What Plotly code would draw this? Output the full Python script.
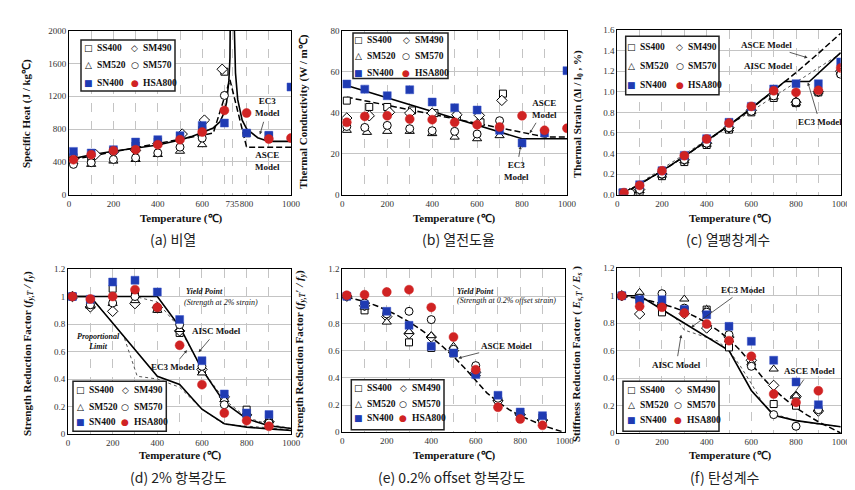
import plotly.graph_objects as go

FIG_W, FIG_H = 855, 490
SERIF = "Liberation Serif, Times New Roman, serif"
KR = "Noto Sans CJK KR, Noto Sans, sans-serif"
BLUE = "#1f3bb3"
RED = "#d02323"
GRID = "#c4c4c4"

SERIES = ["SS400", "SM490", "SM520", "SM570", "SN400", "HSA800"]
TEMP11 = [20, 100, 200, 300, 400, 500, 600, 700, 800, 900, 1000]
TEMP10 = [20, 100, 200, 300, 400, 500, 600, 700, 800, 900]

# ---------------- (a) specific heat ----------------
a_ss400_t = [20, 100, 200, 300, 400, 500, 600, 700, 800, 900]
a_ss400 = [460, 430, 540, 600, 650, 700, 790, 1500, 750, 720]
a_sm490_t = [20, 120, 200, 300, 400, 510, 610, 690]
a_sm490 = [440, 490, 520, 540, 620, 740, 910, 1530]
a_sm520_t = [20, 100, 200, 300, 400, 500, 600]
a_sm520 = [400, 370, 410, 430, 490, 530, 610]
a_sm570_t = [20, 100, 200, 300, 400, 500, 600, 700]
a_sm570 = [370, 390, 430, 450, 510, 580, 690, 1210]
a_sn400_t = TEMP11
a_sn400 = [528, 508, 549, 642, 671, 720, 845, 874, 752, 724, 1313]
a_hsa800_t = TEMP11
a_hsa800 = [427, 488, 537, 549, 610, 671, 764, 1028, 996, 679, 691]
a_ec3_t = [20, 100, 200, 300, 400, 500, 550, 600, 650, 680, 700, 710, 720, 725, 730, 733, 735,
           736, 738, 740, 745, 750, 760, 780, 800, 850, 900, 1000]
a_ec3 = [440, 488, 530, 565, 606, 667, 708, 760, 814, 890, 1008, 1130, 1388, 1666, 2291, 3266, 5000,
         4109, 3091, 2525, 1818, 1483, 1159, 909, 803, 695, 650, 650]
a_asce_t = [20, 200, 400, 600, 650, 700, 725, 760, 800, 1000]
a_asce = [430, 522, 624, 726, 752, 1185, 1401, 1018, 580, 580]

# ---------------- (b) thermal conductivity ----------------
b_ss400_t = [20, 120, 200, 310, 410, 510, 615, 715]
b_ss400 = [45.9, 42.8, 42.8, 41.1, 39.8, 38.2, 35.3, 49.3]
b_sm490_t = [20, 120, 210, 300, 400, 510, 610, 710]
b_sm490 = [37.4, 38.5, 40.2, 39.8, 39.8, 39.0, 38.7, 46.0]
b_sm520_t = [20, 110, 200, 300, 400, 500, 600, 700]
b_sm520 = [31.4, 30.4, 30.9, 30.9, 29.8, 28.1, 27.3, 28.8]
b_sm570_t = [20, 100, 200, 300, 400, 500, 600, 700]
b_sm570 = [33.3, 32.8, 33.8, 32.2, 31.2, 30.9, 29.6, 36.1]
b_sn400_t = TEMP11
b_sn400 = [54.0, 51.5, 48.3, 51.2, 45.2, 42.4, 41.3, 31.4, 25.2, 30.1, 60.5]
b_hsa800_t = TEMP11
b_hsa800 = [35.3, 38.2, 38.5, 36.9, 36.6, 35.3, 34.1, 33.0, 38.5, 31.4, 32.4]
b_ec3_t = [20, 800, 1000]
b_ec3 = [53.3, 27.3, 27.3]
b_asce_t = [20, 900, 1000]
b_asce = [47.6, 28.2, 28.2]

# ---------------- (c) thermal strain ----------------
c_ss400_t = [25, 100, 200, 300, 400, 500, 600, 700, 800, 900, 1000]
c_ss400 = [0.02, 0.03, 0.18, 0.317, 0.483, 0.632, 0.80, 0.94, 0.89, 0.994, 1.18]
c_sm490_t = [55, 100, 200, 300, 400, 500, 600, 700, 800, 900, 1000]
c_sm490 = [0.01, 0.05, 0.20, 0.34, 0.50, 0.65, 0.82, 0.97, 0.90, 1.00, 1.20]
c_sm520_t = [60, 100, 200, 300, 400, 500, 600, 700, 800, 900, 1000]
c_sm520 = [0.01, 0.04, 0.19, 0.33, 0.49, 0.64, 0.81, 0.95, 0.89, 1.00, 1.19]
c_sm570_t = [60, 100, 200, 300, 400, 500, 600, 700, 800, 900, 1000]
c_sm570 = [0.015, 0.05, 0.20, 0.34, 0.50, 0.65, 0.81, 0.96, 0.90, 1.00, 1.17]
c_sn400_t = [25, 100, 200, 300, 400, 500, 600, 700, 800, 900, 1000]
c_sn400 = [0.02, 0.097, 0.233, 0.382, 0.544, 0.703, 0.858, 1.027, 1.078, 1.078, 1.289]
c_hsa800_t = [30, 100, 200, 300, 400, 500, 600, 700, 800, 900, 1000]
c_hsa800 = [0.02, 0.09, 0.233, 0.379, 0.541, 0.696, 0.858, 1.01, 0.994, 1.014, 1.231]
c_ec3_t = [20, 100, 200, 300, 400, 500, 600, 700, 750, 860, 1000]
c_ec3 = [0.0, 0.10, 0.232, 0.372, 0.52, 0.676, 0.84, 1.012, 1.10, 1.10, 1.38]
c_asce_t = TEMP11
c_asce = [0.0, 0.099, 0.230, 0.370, 0.517, 0.672, 0.835, 1.006, 1.186, 1.373, 1.568]
c_aisc_t = [20, 1000]
c_aisc = [0.0, 1.372]

# ---------------- (d) 2% yield strength ----------------
d_ss400 = [1.0, 0.95, 1.057, 1.03, 0.909, 0.735, 0.468, 0.26, 0.177, 0.116]
d_sm490 = [1.0, 0.924, 0.892, 0.948, 0.92, 0.75, 0.47, 0.27, 0.14, 0.09]
d_sm520 = [1.0, 0.93, 0.95, 0.97, 0.90, 0.76, 0.444, 0.25, 0.15, 0.10]
d_sm570 = [1.0, 0.94, 0.953, 1.0, 0.92, 0.795, 0.492, 0.213, 0.13, 0.08]
d_sn400 = [1.0, 0.98, 1.105, 1.118, 1.033, 0.832, 0.533, 0.291, 0.153, 0.141]
d_hsa800 = [1.0, 0.982, 1.0, 1.05, 0.921, 0.645, 0.359, 0.153, 0.097, 0.056]
d_ec3y_t = [20, 400, 500, 600, 700, 800, 900, 1000]
d_ec3y = [1.0, 1.0, 0.78, 0.47, 0.23, 0.11, 0.06, 0.04]
d_aiscy_t = [20, 300, 400, 500, 600, 700, 800, 900, 1000]
d_aiscy = [1.0, 1.0, 0.96, 0.77, 0.47, 0.25, 0.12, 0.07, 0.04]
d_ec3p_t = TEMP11
d_ec3p = [1.0, 1.0, 0.807, 0.613, 0.42, 0.36, 0.18, 0.075, 0.05, 0.0375, 0.025]
d_aiscp_t = [20, 100, 200, 250, 310, 400, 500, 600, 700, 800, 900, 1000]
d_aiscp = [1.0, 1.0, 0.81, 0.71, 0.42, 0.40, 0.34, 0.18, 0.07, 0.06, 0.045, 0.03]

# ---------------- (e) 0.2% offset yield strength ----------------
e_ss400 = [1.0, 0.896, 0.865, 0.661, 0.62, 0.58, 0.43, 0.24, 0.14, 0.11]
e_sm490 = [1.0, 0.93, 0.85, 0.725, 0.70, 0.60, 0.44, 0.23, 0.13, 0.09]
e_sm520 = [1.0, 0.92, 0.81, 0.74, 0.71, 0.632, 0.43, 0.25, 0.14, 0.10]
e_sm570 = [1.0, 0.95, 0.87, 0.889, 0.828, 0.61, 0.49, 0.25, 0.13, 0.08]
e_sn400 = [1.0, 0.938, 0.889, 0.786, 0.632, 0.583, 0.424, 0.272, 0.149, 0.122]
e_hsa800 = [1.007, 1.011, 1.031, 1.048, 0.918, 0.70, 0.46, 0.184, 0.098, 0.051]
e_asce_t = [20, 50, 100, 150, 200, 250, 300, 350, 400, 450, 500, 550, 600, 650, 700, 750, 800, 850, 900, 950, 1000]
e_asce = [0.995, 0.984, 0.961, 0.932, 0.898, 0.857, 0.811, 0.758, 0.699, 0.632, 0.557, 0.472, 0.377,
          0.290, 0.222, 0.167, 0.121, 0.084, 0.052, 0.024, 0.0]

# ---------------- (f) elastic modulus ----------------
f_ss400 = [1.0, 0.97, 0.879, 0.90, 0.899, 0.624, 0.522, 0.211, 0.199, 0.17]
f_sm490 = [1.0, 0.867, 0.93, 0.87, 0.765, 0.70, 0.53, 0.347, 0.267, 0.16]
f_sm520 = [1.0, 1.025, 0.94, 0.976, 0.90, 0.68, 0.51, 0.466, 0.27, 0.18]
f_sm570 = [1.0, 0.98, 1.015, 0.91, 0.88, 0.717, 0.486, 0.134, 0.049, 0.17]
f_sn400 = [1.0, 0.971, 0.971, 0.899, 0.862, 0.777, 0.668, 0.53, 0.372, 0.206]
f_hsa800 = [1.0, 0.923, 0.916, 0.874, 0.794, 0.673, 0.559, 0.284, 0.223, 0.308]
f_ec3_t = TEMP11
f_ec3 = [1.0, 1.0, 0.9, 0.8, 0.7, 0.6, 0.31, 0.13, 0.09, 0.0675, 0.045]
f_asce_t = [20, 50, 100, 150, 200, 250, 300, 350, 400, 450, 500, 550, 600, 650, 700, 750, 800, 850, 900, 950, 1000]
f_asce = [0.998, 0.992, 0.979, 0.962, 0.941, 0.916, 0.885, 0.847, 0.802, 0.748, 0.683, 0.603, 0.505,
          0.405, 0.320, 0.248, 0.185, 0.130, 0.082, 0.039, 0.0]
f_aisc_t = [20, 100, 200, 260, 300, 400, 450, 500, 550, 600, 650, 700, 800, 900, 1000]
f_aisc = [1.0, 1.0, 0.90, 0.84, 0.75, 0.70, 0.67, 0.60, 0.49, 0.36, 0.22, 0.14, 0.09, 0.065, 0.045]

# ---------------- styles ----------------
MARKER = {
    "SS400": dict(symbol="square", size=7, color="white", line=dict(color="black", width=1)),
    "SM490": dict(symbol="diamond", size=8, color="white", line=dict(color="black", width=1)),
    "SM520": dict(symbol="triangle-up", size=8, color="white", line=dict(color="black", width=1)),
    "SM570": dict(symbol="circle", size=8, color="white", line=dict(color="black", width=1)),
    "SN400": dict(symbol="square", size=8, color=BLUE, line=dict(color="#3a55c8", width=0.5)),
    "HSA800": dict(symbol="circle", size=9, color=RED, line=dict(color=RED, width=0.5)),
}
GLYPH = {"SS400": ("□", "black"), "SM490": ("◇", "black"), "SM520": ("△", "black"),
         "SM570": ("○", "black"), "SN400": ("■", BLUE), "HSA800": ("●", RED)}

# panel plot areas in pixels (left, right, top, bottom)
PANELS = [
    (61, 283, 22.7, 186.7),
    (334.3, 559, 22.7, 186.7),
    (609.3, 832.7, 22, 186.7),
    (60, 283.3, 261, 426),
    (334.3, 556.7, 261, 424.3),
    (609.3, 832.7, 260.3, 425),
]

fig = go.Figure()


def ax_names(i):
    return ("x" if i == 0 else f"x{i+1}"), ("y" if i == 0 else f"y{i+1}")


def add_points(i, tlist, vlist):
    xr, yr = ax_names(i)
    for name, t, v in zip(SERIES, tlist, vlist):
        fig.add_trace(go.Scatter(x=t, y=v, mode="markers", name=name, showlegend=False,
                                 marker=MARKER[name], xaxis=xr, yaxis=yr, cliponaxis=True))


def add_line(i, t, v, kind):
    xr, yr = ax_names(i)
    if kind == "solid":
        line = dict(color="black", width=1.6)
    elif kind == "dash":
        line = dict(color="black", width=1.5, dash="6px,3px")
    else:
        line = dict(color="#555555", width=1, dash="dot")
    fig.add_trace(go.Scatter(x=t, y=v, mode="lines", line=line, showlegend=False,
                             xaxis=xr, yaxis=yr, hoverinfo="skip"))


# model lines first (beneath markers)
add_line(0, a_asce_t, a_asce, "dash")
add_line(0, a_ec3_t, a_ec3, "solid")
add_line(1, b_asce_t, b_asce, "dash")
add_line(1, b_ec3_t, b_ec3, "solid")
add_line(2, c_aisc_t, c_aisc, "dot")
add_line(2, c_asce_t, c_asce, "dash")
add_line(2, c_ec3_t, c_ec3, "solid")
add_line(3, d_aiscy_t, d_aiscy, "dot")
add_line(3, d_aiscp_t, d_aiscp, "dot")
add_line(3, d_ec3y_t, d_ec3y, "solid")
add_line(3, d_ec3p_t, d_ec3p, "solid")
add_line(4, e_asce_t, e_asce, "dash")
add_line(5, f_aisc_t, f_aisc, "dot")
add_line(5, f_ec3_t, f_ec3, "solid")
add_line(5, f_asce_t, f_asce, "dash")

add_points(0, [a_ss400_t, a_sm490_t, a_sm520_t, a_sm570_t, a_sn400_t, a_hsa800_t],
           [a_ss400, a_sm490, a_sm520, a_sm570, a_sn400, a_hsa800])
add_points(1, [b_ss400_t, b_sm490_t, b_sm520_t, b_sm570_t, b_sn400_t, b_hsa800_t],
           [b_ss400, b_sm490, b_sm520, b_sm570, b_sn400, b_hsa800])
add_points(2, [c_ss400_t, c_sm490_t, c_sm520_t, c_sm570_t, c_sn400_t, c_hsa800_t],
           [c_ss400, c_sm490, c_sm520, c_sm570, c_sn400, c_hsa800])
add_points(3, [TEMP10] * 6, [d_ss400, d_sm490, d_sm520, d_sm570, d_sn400, d_hsa800])
add_points(4, [TEMP10] * 6, [e_ss400, e_sm490, e_sm520, e_sm570, e_sn400, e_hsa800])
add_points(5, [TEMP10] * 6, [f_ss400, f_sm490, f_sm520, f_sm570, f_sn400, f_hsa800])

# ---------------- axes ----------------
YRANGES = [(0, 2000, 400, None), (0, 80, 20, None), (0, 1.6, 0.2, ".1f"),
           (0, 1.2, 0.2, None), (0, 1.2, 0.2, None), (0, 1.2, 0.2, None)]
tickfont = dict(family=SERIF, size=9, color="#333333")
layout_axes = {}
for i, (l, r, t, b) in enumerate(PANELS):
    xk = "xaxis" if i == 0 else f"xaxis{i+1}"
    yk = "yaxis" if i == 0 else f"yaxis{i+1}"
    xr, yr = ax_names(i)
    xa = dict(domain=[l / FIG_W, r / FIG_W], anchor=yr, range=[0, 1000], showgrid=True,
              gridcolor=GRID, griddash="dash", gridwidth=1, zeroline=False, showline=True,
              linecolor="black", linewidth=1, mirror=True, ticks="", tickfont=tickfont,
              tickangle=0, automargin=False,
              minor=dict(dtick=100, tick0=0, showgrid=True, gridcolor=GRID, griddash="dash", gridwidth=1))
    if i == 0:
        xa.update(tickmode="array", tickvals=[0, 200, 400, 600, 735, 800, 1000],
                  ticktext=["0", "200", "400", "600", "735", "800", "1000"])
    else:
        xa.update(dtick=200, tick0=0)
    y0, y1, dt, fmt = YRANGES[i]
    ya = dict(domain=[1 - b / FIG_H, 1 - t / FIG_H], anchor=xr, range=[y0, y1], dtick=dt, tick0=0,
              showgrid=True, gridcolor=GRID, gridwidth=1, zeroline=False, showline=True,
              linecolor="black", linewidth=1, mirror=True, ticks="", tickfont=tickfont,
              automargin=False)
    if fmt:
        ya["tickformat"] = fmt
    layout_axes[xk] = xa
    layout_axes[yk] = ya

annotations = []
shapes = []


def paper(x, y):
    return x / FIG_W, 1 - y / FIG_H


# axis titles
YTITLES = [
    ("Specific Heat (J / kg℃)", 18, 106),
    ("Thermal Conductivity (W / m℃)", 295, 104),
    ("Thermal Strain (Δl / l<sub>0</sub> , %)", 570, 106),
    ("Strength Reduction Factor (<i>f<sub>y,T</sub> / f<sub>y</sub></i>)", 20, 346),
    ("Strength Reduction Factor (<i>f<sub>y,T</sub>′ / f<sub>y</sub></i>)", 292, 346),
    ("Stiffness Reduction Factor ( <i>E<sub>s,T</sub> / E<sub>s</sub></i> )", 569, 346),
]
for txt, xpx, ypx in YTITLES:
    px, py = paper(xpx, ypx)
    annotations.append(dict(text=f"<b>{txt}</b>", x=px, y=py, xref="paper", yref="paper",
                            textangle=-90, showarrow=False, xanchor="center", yanchor="middle",
                            font=dict(family=SERIF, size=11, color="#111111")))
for xpx, ypx in [(173, 210), (447, 210), (722, 210), (172, 447), (447, 447), (722, 447)]:
    px, py = paper(xpx, ypx)
    annotations.append(dict(text="<b>Temperature (℃)</b>", x=px, y=py, xref="paper", yref="paper",
                            showarrow=False, xanchor="center", yanchor="middle",
                            font=dict(family=SERIF, size=11, color="#111111")))

CAPTIONS = [("(a) 비열", 165, 231), ("(b) 열전도율", 450, 231), ("(c) 열팽창계수", 720, 231),
            ("(d) 2% 항복강도", 170, 469), ("(e) 0.2% offset 항복강도", 444, 469),
            ("(f) 탄성계수", 717, 469)]
for txt, xpx, ypx in CAPTIONS:
    px, py = paper(xpx, ypx)
    annotations.append(dict(text=txt, x=px, y=py, xref="paper", yref="paper", showarrow=False,
                            xanchor="center", yanchor="middle",
                            font=dict(family=KR, size=14, color="#222222")))

# legends (box, row y, marker x per column, text x per column)
LEGENDS = [
    ((73, 32, 167, 83), [40, 57.5, 75], [80, 126.5], [86.5, 133]),
    ((345, 25, 440, 70.5), [32, 48.3, 64.5], [350.7, 398.3], [357, 404.5]),
    ((617.7, 28.3, 711, 86.7), [39, 58.3, 76.7], [623.3, 671.7], [630, 678]),
    ((65, 373.3, 158.3, 423.3), [381.7, 399, 414.3], [72.3, 117.3], [79, 124]),
    ((343.3, 371.7, 436, 421.7), [380, 395.7, 410], [350, 395], [357, 402]),
    ((615, 373.3, 711, 423.3), [381.7, 396.7, 411.7], [623.3, 670], [630, 677]),
]
LEG_ORDER = [["SS400", "SM520", "SN400"], ["SM490", "SM570", "HSA800"]]
for (bx0, by0, bx1, by1), rows, mxs, txs in LEGENDS:
    p0x, p0y = paper(bx0, by1)
    p1x, p1y = paper(bx1, by0)
    shapes.append(dict(type="rect", xref="paper", yref="paper", x0=p0x, y0=p0y, x1=p1x, y1=p1y,
                       fillcolor="white", line=dict(color="#222222", width=1.5), layer="above"))
    for c in range(2):
        for r in range(3):
            name = LEG_ORDER[c][r]
            g, col = GLYPH[name]
            gx, gy = paper(mxs[c], rows[r])
            tx, _ = paper(txs[c], rows[r])
            annotations.append(dict(text=g, x=gx, y=gy, xref="paper", yref="paper", showarrow=False,
                                    xanchor="center", yanchor="middle",
                                    font=dict(family="DejaVu Sans", size=9, color=col)))
            annotations.append(dict(text=f"<b>{name}</b>", x=tx, y=gy, xref="paper", yref="paper",
                                    showarrow=False, xanchor="left", yanchor="middle",
                                    font=dict(family=SERIF, size=9.5, color="#111111")))


def label(i, txt, x, y, anchor="center", size=9, target=None):
    """Model label at (x, y); if target is given, an arrow runs from the label to it."""
    xr, yr = ax_names(i)
    font = dict(family=SERIF, size=size, color="#111111")
    if target:
        annotations.append(dict(text=txt, x=target[0], y=target[1], ax=x, ay=y, xref=xr, yref=yr,
                                axref=xr, ayref=yr, showarrow=True, arrowhead=2, arrowsize=0.8,
                                arrowwidth=0.8, arrowcolor="#333333", font=font, align="center",
                                standoff=0, startstandoff=2))
    else:
        annotations.append(dict(text=txt, x=x, y=y, xref=xr, yref=yr, showarrow=False,
                                xanchor=anchor, yanchor="middle", font=font, align="center"))


label(0, "<b>EC3<br>Model</b>", 896, 1065, target=(860, 735))
label(0, "<b>ASCE<br>Model</b>", 896, 407)
label(1, "<b>ASCE<br>Model</b>", 901, 42, target=(834, 30))
label(1, "<b>EC3<br>Model</b>", 774, 11.4, target=(794, 23.8))
label(2, "<b>ASCE Model</b>", 667, 1.452, target=(852, 1.33))
label(2, "<b>AISC Model</b>", 675, 1.248)
label(2, "<b>EC3 Model</b>", 906, 0.703, target=(853, 1.09))
label(3, "<b><i>Yield Point</i></b>", 518, 1.038, anchor="left", size=8)
label(3, "<i>(Strength at 2% strain)</i>", 512, 0.958, anchor="left", size=8)
label(3, "<b>AISC Model</b>", 664, 0.747, target=(585, 0.595))
label(3, "<b>EC3 Model</b>", 470, 0.487, target=(533, 0.61))
label(3, "<b><i>Proportional<br>Limit</i></b>", 30, 0.672, anchor="left", size=8)
label(4, "<b><i>Yield Point</i></b>", 508, 1.036, anchor="left", size=8)
label(4, "<i>(Strength at 0.2% offset strain)</i>", 508, 0.97, anchor="left", size=8)
label(4, "<b>ASCE Model</b>", 737, 0.636, target=(522, 0.545))
label(5, "<b>EC3 Model</b>", 563, 1.044, target=(331, 0.77))
label(5, "<b>AISC Model</b>", 264, 0.498, target=(286, 0.716))
label(5, "<b>ASCE Model</b>", 861, 0.449, target=(772, 0.245))

fig.update_layout(
    width=FIG_W, height=FIG_H, margin=dict(l=0, r=0, t=0, b=0),
    paper_bgcolor="white", plot_bgcolor="white", showlegend=False,
    annotations=annotations, shapes=shapes, **layout_axes,
)

fig.write_html("out.html")
